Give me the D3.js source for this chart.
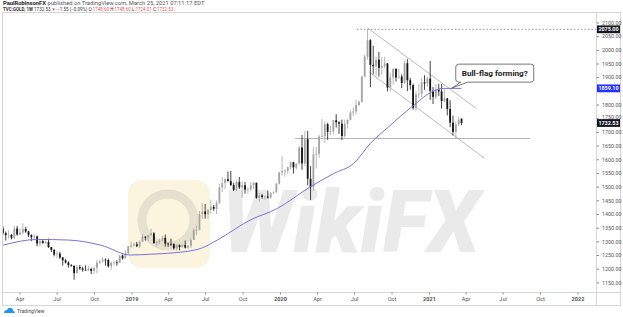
<!DOCTYPE html>
<html>
<head>
<meta charset="utf-8">
<script src="https://cdn.jsdelivr.net/npm/d3@7"></script>
<style>
  body { margin: 0; background: #fff; }
  text { font-family: Roboto, "Liberation Sans", sans-serif; }
</style>
</head>
<body>
<div id="chart"></div>
<script>
// weekly TVC:GOLD bars, first bar is the week of 2018-02-19
const firstWeek = '2018-02-19';
const lastWeek = '2021-03-22';

const opens = [
  1347,1330,1323,1324,1313,1347,1325,1332,1345,1336,1323,1315,1318,1292,1301,1294,1298,1279,1269,1252,1255,1241,1231,1223,1213,1211,1184,1206,1201,1196,1194,1199,1192,1203,1222,1227,1233,1232,1209,1222,1223,1221,1248,1238,1256,1281,
  1285,1289,1282,1298,1317,1314,1322,1329,1294,1299,1302,1313,1292,1291,1290,1275,1286,1280,1286,1277,1284,1305,1341,1342,1400,1409,1399,1415,1426,1419,1440,1497,1513,1527,1520,1506,1488,1517,1497,1505,1489,1490,1505,1514,1459,1468,1462,1464,1460,1476,1479,1511,
  1552,1557,1558,1571,1589,1570,1584,1643,1585,1673,1529,1498,1618,1620,1683,1684,1728,1700,1702,1743,1735,1730,1685,1730,1744,1771,1775,1798,1810,1902,1975,2035,1945,1940,1964,1934,1941,1950,1862,1899,1930,1899,1902,1879,1951,1889,1871,1788,1838,1839,1881,1877,
  1895,1850,1828,1855,1848,1813,1823,1784,1734,1700,1727,1748.6
];
const highs = [
  1356,1336,1341,1326,1356,1356,1347,1366,1353,1339,1326,1326,1321,1307,1308,1303,1310,1280,1271,1265,1262,1243,1235,1227,1217,1212,1214,1214,1207,1212,1211,1204,1208,1233,1233,1243,1238,1237,1226,1230,1231,1250,1252,1268,1284,1299,
  1296,1298,1304,1326,1319,1323,1346,1334,1300,1311,1321,1325,1296,1310,1293,1288,1289,1289,1303,1287,1311,1347,1358,1411,1439,1437,1418,1453,1433,1449,1510,1535,1531,1555,1557,1514,1523,1535,1519,1517,1497,1518,1517,1515,1478,1474,1467,1485,1480,1483,1513,1553,
  1611,1564,1573,1591,1591,1585,1649,1689,1703,1704,1575,1644,1645,1690,1747,1739,1733,1723,1743,1765,1739,1745,1745,1746,1779,1789,1818,1815,1906,1983,2075,2039,2015,1976,1992,1973,1974,1952,1917,1933,1933,1931,1910,1960,1966,1898,1876,1848,1875,1897,1907,1902,
  1959,1864,1875,1876,1875,1855,1823,1816,1760,1739,1755,1748.6
];
const lows = [
  1322,1303,1310,1307,1309,1321,1322,1325,1331,1316,1301,1304,1282,1282,1291,1290,1276,1261,1245,1238,1236,1211,1219,1204,1207,1160,1183,1195,1189,1193,1192,1180,1181,1183,1216,1221,1211,1204,1196,1213,1211,1221,1233,1236,1255,1276,
  1281,1280,1276,1298,1303,1302,1321,1291,1281,1290,1300,1281,1280,1282,1270,1266,1267,1277,1274,1273,1276,1305,1322,1340,1382,1383,1382,1401,1412,1400,1437,1480,1491,1519,1502,1484,1484,1491,1459,1474,1474,1483,1491,1456,1445,1456,1452,1456,1456,1472,1478,1508,
  1541,1536,1547,1562,1548,1562,1582,1562,1576,1505,1451,1484,1567,1605,1680,1660,1671,1688,1691,1716,1693,1670,1680,1712,1742,1757,1764,1795,1806,1900,1964,1863,1911,1903,1902,1907,1932,1848,1848,1873,1884,1894,1860,1875,1849,1854,1781,1776,1822,1826,1854,1865,
  1817,1802,1820,1831,1785,1808,1760,1717,1687,1676,1720,1724.01
];
const closes = [
  1330,1323,1324,1313,1347,1325,1332,1345,1336,1323,1315,1318,1292,1301,1294,1298,1279,1269,1252,1255,1241,1231,1223,1213,1211,1184,1206,1201,1196,1194,1199,1192,1203,1222,1227,1233,1232,1209,1222,1223,1221,1248,1238,1256,1281,1285,
  1289,1282,1298,1317,1314,1322,1329,1294,1299,1302,1313,1292,1291,1290,1275,1286,1280,1286,1277,1284,1305,1341,1342,1400,1409,1399,1415,1426,1419,1440,1497,1513,1527,1520,1506,1488,1517,1497,1505,1489,1490,1505,1514,1459,1468,1462,1464,1460,1476,1479,1511,1552,
  1557,1558,1571,1589,1570,1584,1643,1585,1673,1529,1498,1618,1620,1683,1684,1728,1700,1702,1743,1735,1730,1685,1730,1744,1771,1775,1798,1810,1902,1975,2035,1945,1940,1964,1934,1941,1950,1862,1899,1930,1899,1902,1879,1951,1889,1871,1788,1838,1839,1881,1877,1895,
  1850,1828,1855,1848,1813,1823,1784,1734,1700,1727,1745,1732.53
];

// moving average
const maDates = ['2018-02-19','2018-05-15','2018-07-28','2018-10-18','2018-12-30','2019-02-17','2019-04-15','2019-06-20','2019-07-31','2019-10-20','2019-12-25','2020-03-16','2020-05-12','2020-06-30','2020-08-10','2020-09-24','2020-11-20','2021-01-09','2021-02-02','2021-03-22'];
const maValues = [1286,1307,1305,1286,1250,1253,1258,1274,1305,1378,1420,1500,1548,1585,1658,1719,1792,1847,1859,1859.1];

// axis ticks (1850 sits under the MA tag, so it is not labelled)
const priceTicks = [1150,1200,1250,1300,1350,1400,1450,1500,1550,1600,1650,1700,1750,1800,1900,1950,2000,2050,2100];
const timeTicks = ['2018-04-01','2018-07-01','2018-10-01','2019-01-01','2019-04-01','2019-07-01','2019-10-01','2020-01-01','2020-04-01','2020-07-01','2020-10-01','2021-01-01','2021-04-01','2021-07-01','2021-10-01','2022-01-01'];
const timeLabels = ['Apr','Jul','Oct','2019','Apr','Jul','Oct','2020','Apr','Jul','Oct','2021','Apr','Jul','Oct','2022'];

// drawings on the chart (date, price)
const channelTop = [['2020-08-03', 2080], ['2021-04-27', 1786]];
const channelBottom = [['2020-08-07', 1919], ['2021-05-17', 1604]];
const supportLine = [['2020-02-07', 1676], ['2021-09-07', 1676]];
const highLine = [['2020-07-08', 2075], ['2022-03-01', 2075]];
const callout = {date: '2021-02-26', price: 1860, text: 'Bull-flag forming?'};

const headerLine1 = ' published on TradingView.com, March 25, 2021 07:11:17 EDT';
const author = 'PaulRobinsonFX';
const prevClose = 1734.08;

class CandleChart {

  constructor(_config) {
    this.config = {
      parentElement: _config.parentElement,
      containerWidth: 623,
      containerHeight: 317,
      plot: {left: 3, right: 596, top: 13, bottom: 292},
      upColor: '#a4a4a4',
      downColor: '#151515',
      maColor: '#7b72dc'
    };
    this.initVis();
  }

  initVis() {
    let vis = this;
    const p = vis.config.plot;
    const parse = d3.utcParse('%Y-%m-%d');
    vis.parse = parse;

    vis.svg = d3.select(vis.config.parentElement).append('svg')
        .attr('width', vis.config.containerWidth)
        .attr('height', vis.config.containerHeight);

    vis.x = d3.scaleUtc()
        .domain([parse('2019-01-01'), parse('2022-01-01')])
        .range([131.5, 577.5]);

    vis.y = d3.scaleLinear()
        .domain([1114.9, 2134.6])
        .range([p.bottom, p.top]);

    vis.svg.append('clipPath').attr('id', 'plot-clip')
      .append('rect')
        .attr('x', p.left).attr('y', p.top)
        .attr('width', p.right - p.left).attr('height', p.bottom - p.top);

    vis.bars = d3.utcMonday.range(parse(firstWeek), d3.utcDay.offset(parse(lastWeek), 1))
        .slice(0, closes.length)
        .map((d, i) => ({date: d, o: opens[i], h: highs[i], l: lows[i], c: closes[i]}));

    vis.renderVis();
  }

  renderVis() {
    let vis = this;
    const p = vis.config.plot;
    const x = vis.x, y = vis.y;

    // frame
    const frame = vis.svg.append('g').attr('stroke', '#d6d6d6').attr('shape-rendering', 'crispEdges');
    frame.append('rect').attr('x', 2.5).attr('y', 12.5).attr('width', 618).attr('height', 292.5).attr('fill', 'none');
    frame.append('line').attr('x1', p.right + 0.5).attr('x2', p.right + 0.5).attr('y1', 12.5).attr('y2', 305);
    frame.append('line').attr('x1', 2.5).attr('x2', 620.5).attr('y1', p.bottom + 0.5).attr('y2', p.bottom + 0.5);

    // watermark
    const wm = vis.svg.append('g').attr('pointer-events', 'none');
    wm.append('rect').attr('x', 128).attr('y', 180).attr('width', 82).attr('height', 88).attr('rx', 14)
        .attr('fill', '#f6e7b6').attr('opacity', 0.45);
    wm.append('circle').attr('cx', 168).attr('cy', 220).attr('r', 26)
        .attr('fill', 'none').attr('stroke', '#9a9a9a').attr('stroke-width', 9).attr('opacity', 0.22);
    wm.append('text').attr('x', 222).attr('y', 252)
        .attr('font-size', 86).attr('font-weight', 900).attr('font-style', 'italic')
        .attr('textLength', 258).attr('lengthAdjust', 'spacingAndGlyphs')
        .attr('fill', '#bdbdbd').attr('opacity', 0.3)
        .text('WikiFX');

    const plot = vis.svg.append('g').attr('clip-path', 'url(#plot-clip)');
    const pt = d => [x(vis.parse(d[0])), y(d[1])];
    const line = d3.line();

    plot.append('path').attr('d', line(supportLine.map(pt)))
        .attr('stroke', '#b5b5b5').attr('stroke-width', 1).attr('fill', 'none');
    plot.append('path').attr('d', line(highLine.map(pt)))
        .attr('stroke', '#7a7a7a').attr('stroke-width', 0.8).attr('stroke-dasharray', '1.5,2').attr('fill', 'none');
    [channelTop, channelBottom].forEach(c => {
      plot.append('path').attr('d', line(c.map(pt)))
          .attr('stroke', '#a9a9a9').attr('stroke-width', 0.8).attr('fill', 'none');
    });

    // candles
    const candles = plot.append('g').selectAll('g').data(vis.bars).join('g')
        .attr('fill', d => d.c >= d.o ? vis.config.upColor : vis.config.downColor)
        .attr('stroke', d => d.c >= d.o ? vis.config.upColor : vis.config.downColor);
    candles.append('line')
        .attr('x1', d => x(d.date)).attr('x2', d => x(d.date))
        .attr('y1', d => y(d.h)).attr('y2', d => y(d.l))
        .attr('stroke-width', 0.8);
    candles.append('rect')
        .attr('x', d => x(d.date) - 0.9).attr('width', 1.8)
        .attr('y', d => y(Math.max(d.o, d.c)))
        .attr('height', d => Math.max(0.7, Math.abs(y(d.o) - y(d.c))))
        .attr('stroke', 'none');

    // moving average
    plot.append('path')
        .datum(maDates.map((d, i) => [x(vis.parse(d)), y(maValues[i])]))
        .attr('d', d3.line().curve(d3.curveMonotoneX))
        .attr('fill', 'none').attr('stroke', vis.config.maColor).attr('stroke-width', 1);

    // callout
    const cx = x(vis.parse(callout.date)), cy = y(callout.price);
    const bx = cx + 4, by = cy - 24, bw = 78, bh = 18, r = 3;
    const cg = vis.svg.append('g');
    cg.append('path')
        .attr('d', `M${bx + r},${by} H${bx + bw - r} Q${bx + bw},${by} ${bx + bw},${by + r} V${by + bh - r}
          Q${bx + bw},${by + bh} ${bx + bw - r},${by + bh} H${bx + 12} L${cx},${cy} L${bx + 5},${by + bh}
          H${bx + r} Q${bx},${by + bh} ${bx},${by + bh - r} V${by + r} Q${bx},${by} ${bx + r},${by} Z`)
        .attr('fill', '#fff').attr('stroke', '#555').attr('stroke-width', 0.8);
    cg.append('text').attr('x', bx + bw / 2).attr('y', by + bh / 2 + 2.8)
        .attr('text-anchor', 'middle').attr('font-size', 8).attr('font-weight', 'bold')
        .attr('fill', '#222').attr('textLength', 66).attr('lengthAdjust', 'spacingAndGlyphs')
        .text(callout.text);

    // price axis
    const yAxis = vis.svg.append('g').attr('transform', `translate(${p.right + 0.5},0)`)
        .call(d3.axisRight(y).tickValues(priceTicks).tickFormat(d3.format('.2f')).tickSize(2.5).tickPadding(3));
    yAxis.select('.domain').remove();
    yAxis.selectAll('line').attr('stroke', '#8a8a8a');
    yAxis.selectAll('text').attr('font-size', 5.4).attr('fill', '#555').attr('font-family', 'Roboto, sans-serif');
    // the 1750 label sits just above the last-price tag
    yAxis.selectAll('.tick').filter(d => d === 1750).select('text').attr('dy', '0.1em');

    // time axis
    const xAxis = vis.svg.append('g').attr('transform', `translate(0,${p.bottom + 0.5})`)
        .call(d3.axisBottom(x).tickValues(timeTicks.map(vis.parse)).tickFormat((d, i) => timeLabels[i]).tickSize(2).tickPadding(2.5));
    xAxis.select('.domain').remove();
    xAxis.selectAll('line').attr('stroke', '#8a8a8a');
    xAxis.selectAll('text').attr('font-size', 5.6).attr('fill', '#555').attr('font-family', 'Roboto, sans-serif')
        .attr('font-weight', (d, i) => /^\d/.test(timeLabels[i]) ? 'bold' : 'normal');

    // price tags
    const tag = (value, color) => {
      const g = vis.svg.append('g').attr('transform', `translate(${p.right + 1},${y(value)})`);
      g.append('rect').attr('x', 0).attr('y', -3.9).attr('width', 23).attr('height', 7.8).attr('fill', color);
      g.append('text').attr('x', 11.5).attr('y', 1.9).attr('text-anchor', 'middle')
          .attr('font-size', 5.4).attr('font-weight', 'bold').attr('fill', '#fff').text(d3.format('.2f')(value));
    };
    tag(2075, '#131722');
    tag(maValues[maValues.length - 1], '#2130ff');
    tag(closes[closes.length - 1], '#131722');

    // header
    const h1 = vis.svg.append('text').attr('x', 3).attr('y', 5).attr('font-size', 5.8).attr('fill', '#555');
    h1.append('tspan').attr('font-weight', 'bold').attr('fill', '#222').text(author);
    h1.append('tspan').text(headerLine1);

    const last = vis.bars[vis.bars.length - 1];
    const chg = last.c - prevClose;
    const red = '#ef5350';
    const f2 = d3.format('.2f');
    const h2 = vis.svg.append('text').attr('x', 3).attr('y', 11.3).attr('font-size', 4.5).attr('fill', '#333');
    h2.append('tspan').attr('font-weight', 'bold').text('TVC:GOLD, 1W ');
    h2.append('tspan').text(f2(last.c) + ' ');
    h2.append('tspan').attr('fill', red).text('▼');
    h2.append('tspan').text(` ${f2(chg).replace('-', '−')} (${d3.format('.2%')(chg / prevClose).replace('-', '−')}) O:`);
    h2.append('tspan').attr('fill', red).text(f2(last.o));
    h2.append('tspan').text(' H:');
    h2.append('tspan').attr('fill', red).text(f2(last.h));
    h2.append('tspan').text(' L:');
    h2.append('tspan').attr('fill', red).text(f2(last.l));
    h2.append('tspan').text(' C:');
    h2.append('tspan').attr('fill', red).text(f2(last.c));

    // footer logo
    const f = vis.svg.append('g').attr('transform', 'translate(4,307)');
    f.append('path').attr('d', 'M0,6 Q0,3 3,3 Q4,0 7,1 Q9,1 9,4 Q11,4 11,6 Z').attr('fill', '#2196f3');
    f.append('text').attr('x', 13).attr('y', 5.8).attr('font-size', 5).attr('fill', '#444').text('TradingView');
  }
}

new CandleChart({parentElement: '#chart'});
</script>
</body>
</html>
